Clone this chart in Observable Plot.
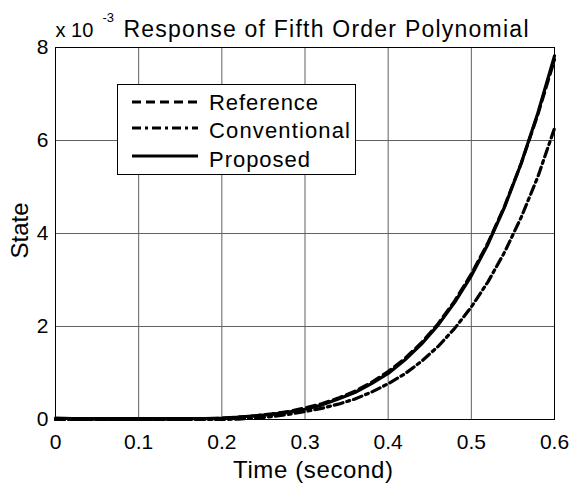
<!DOCTYPE html>
<html><head><meta charset="utf-8">
<script src="https://cdn.jsdelivr.net/npm/d3@7"></script>
<script src="https://cdn.jsdelivr.net/npm/@observablehq/plot@0.6"></script>
<style>
body{margin:0;background:#fff;}
#chart svg{display:block;}
</style>
</head><body><div id="chart"></div>
<script>
// Time samples (s)
const time = [0,0.02,0.04,0.06,0.08,0.10,0.12,0.14,0.16,0.18,0.20,0.22,0.24,0.26,0.28,0.30,0.32,0.34,0.36,0.38,0.40,0.42,0.44,0.46,0.48,0.50,0.52,0.54,0.56,0.58,0.60];
// State values (x 10^-3)
const reference    = [0,0,0,0,0,0,0,0,0,0.01,0.03,0.05,0.08,0.12,0.17,0.25,0.34,0.46,0.61,0.80,1.03,1.31,1.65,2.06,2.55,3.13,3.80,4.59,5.51,6.56,7.74];
const conventional = [0,0,0,0,0,0,0,0,0,0,0,0.01,0.03,0.06,0.11,0.17,0.24,0.33,0.44,0.59,0.77,0.98,1.25,1.57,1.96,2.42,2.96,3.60,4.35,5.22,6.26];
const proposed     = [0.03,0.02,0.02,0.02,0.02,0.02,0.02,0.02,0.02,0.02,0.03,0.05,0.08,0.11,0.16,0.22,0.31,0.44,0.58,0.77,0.99,1.28,1.62,2.03,2.52,3.09,3.77,4.57,5.51,6.59,7.82];
const seriesNames = ["Reference","Conventional","Proposed"];
const xTicks = [0,0.1,0.2,0.3,0.4,0.5,0.6];
const yTicks = [0,2,4,6,8];

const FONT = '"Liberation Sans", Arial, Helvetica, sans-serif';
const dashes = {Reference:"9,5", Conventional:"9,4,3,4", Proposed:"none"};
const valuesBySeries = {Reference:reference, Conventional:conventional, Proposed:proposed};
const rows = seriesNames.map(name => time.map((t,i) => ({series:name, t, v:valuesBySeries[name][i]})));

const chart = Plot.plot({
  width:571, height:489,
  marginLeft:55, marginRight:17, marginTop:47, marginBottom:70,
  style:{fontFamily:FONT, fontSize:"20px", color:"#000", background:"#fff", overflow:"visible"},
  x:{domain:[0,0.6]},
  y:{domain:[0,8]},
  marks:[
    Plot.gridX(xTicks,{stroke:"#606060", strokeOpacity:1, strokeWidth:1}),
    Plot.gridY(yTicks,{stroke:"#606060", strokeOpacity:1, strokeWidth:1}),
    ...rows.map(r => Plot.line(r,{x:"t", y:"v", stroke:"#000", strokeWidth:3.2, strokeDasharray:dashes[r[0].series], strokeLinejoin:"round"})),
    Plot.frame({stroke:"#000", strokeWidth:1}),
    Plot.axisX(xTicks,{tickSize:0, tickPadding:15, fontSize:21, label:null, tickFormat:d=>String(d)}),
    Plot.axisY(yTicks,{tickSize:0, tickPadding:7, fontSize:21, label:null, tickFormat:d=>String(d)}),
    Plot.text(["x 10"],{frameAnchor:"top-left", dy:-11, textAnchor:"start", lineAnchor:"bottom", fontSize:20}),
    Plot.text(["-3"],{frameAnchor:"top-left", dx:47, dy:-26, textAnchor:"start", lineAnchor:"bottom", fontSize:13}),
    Plot.text(["Response of Fifth Order Polynomial"],{frameAnchor:"top-left", dx:68, dy:-11, textAnchor:"start", lineAnchor:"bottom", fontSize:23, className:"ttl"}),
    Plot.text(["Time (second)"],{frameAnchor:"bottom", dx:8, dy:58, textAnchor:"middle", lineAnchor:"bottom", fontSize:24, className:"xlab"}),
    Plot.text(["State"],{frameAnchor:"left", dx:-28, dy:-3, rotate:-90, textAnchor:"middle", lineAnchor:"bottom", fontSize:24, className:"ylab"})
  ]
});
document.getElementById("chart").appendChild(chart);

const svg = d3.select(chart);
svg.selectAll(".ttl text").attr("textLength",405).attr("lengthAdjust","spacing");
svg.selectAll(".xlab text").attr("textLength",160).attr("lengthAdjust","spacing");
svg.selectAll(".ylab text").attr("textLength",56).attr("lengthAdjust","spacing");

// Legend
const lg = svg.append("g").attr("font-family",FONT).attr("font-size",22).attr("text-anchor","start");
lg.append("rect").attr("x",117.5).attr("y",84.5).attr("width",238).attr("height",90)
  .attr("fill","#fff").attr("stroke","#000").attr("stroke-width",1);
const legendRows = [
  {name:"Reference", ly:102, by:110, w:109},
  {name:"Conventional", ly:128, by:138, w:141},
  {name:"Proposed", ly:156, by:166.5, w:101}
];
legendRows.forEach(r => {
  lg.append("line").attr("x1",132).attr("x2",198).attr("y1",r.ly).attr("y2",r.ly)
    .attr("stroke","#000").attr("stroke-width",3)
    .attr("stroke-dasharray",dashes[r.name]);
  lg.append("text").attr("x",209).attr("y",r.by).attr("text-anchor","start").text(r.name)
    .attr("textLength",r.w).attr("lengthAdjust","spacing");
});
</script>
</body></html>
